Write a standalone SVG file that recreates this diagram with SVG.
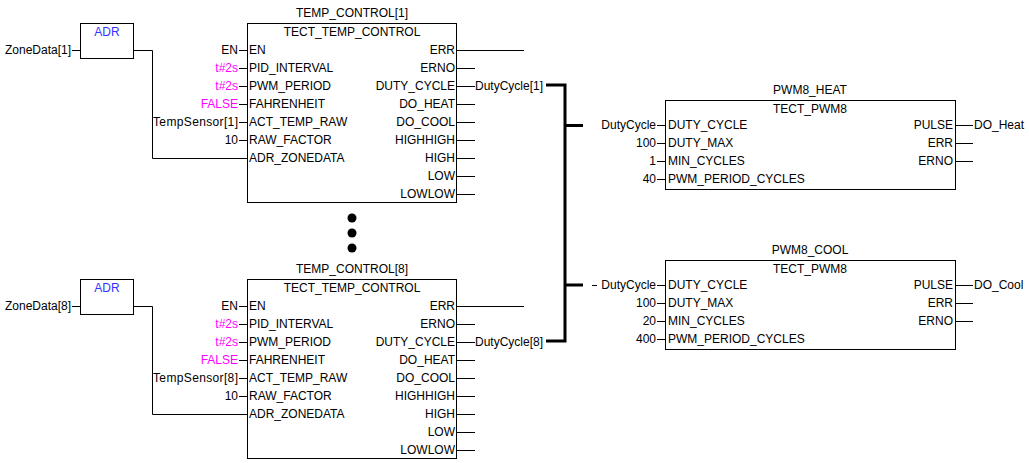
<svg xmlns="http://www.w3.org/2000/svg" width="1029" height="463" viewBox="0 0 1029 463">
<style>
text{font-family:"Liberation Sans",Arial,sans-serif;font-size:12px;fill:#000}
.m{fill:#ff00ff}
.b{fill:#3333ff}
.e{text-anchor:end}
.c{text-anchor:middle}
.box{fill:#fff;stroke:#000;stroke-width:1}
.w{stroke:#000;stroke-width:1;fill:none}
.bus{stroke:#000;stroke-width:3;fill:none}
</style>
<rect width="1029" height="463" fill="#fff"/>
<g id="connectors">
  <!-- top block -->
  <path class="w" d="M72 50.5H80M133.5 50.5H152.5V158.5H247"/>
  <path class="w" d="M239 50.5H247M239 68.5H247M239 86.5H247M239 104.5H247M239 122.5H247M239 140.5H247"/>
  <path class="w" d="M457 50.5H524M457 68.5H475M457 86.5H475M457 104.5H475M457 122.5H475M457 140.5H475M457 158.5H475M457 176.5H475M457 194.5H475"/>
  <!-- bottom block -->
  <path class="w" d="M72 306.5H80M133.5 306.5H152.5V414.5H247"/>
  <path class="w" d="M239 306.5H247M239 324.5H247M239 342.5H247M239 360.5H247M239 378.5H247M239 396.5H247"/>
  <path class="w" d="M457 306.5H524M457 324.5H475M457 342.5H475M457 360.5H475M457 378.5H475M457 396.5H475M457 414.5H475M457 432.5H475M457 450.5H475"/>
  <!-- PWM heat -->
  <path class="w" d="M657 125.5H665M657 143.5H665M657 161.5H665M657 179.5H665M956 125.5H973M956 143.5H973M956 161.5H973"/>
  <!-- PWM cool -->
  <path class="w" d="M592 285.5H597M657 285.5H665M657 303.5H665M657 321.5H665M657 339.5H665M956 285.5H973M956 303.5H973M956 321.5H973"/>
  <!-- bus -->
  <path class="bus" d="M546 85H565V341H546M565 125.5H583M565 285H583"/>
</g>
<g id="adr1">
  <rect class="box" x="80.5" y="23.5" width="53" height="35"/>
  <text class="b c" x="107" y="36">ADR</text>
  <text class="e" x="71" y="54">ZoneData[1]</text>
</g>
<g id="temp_control_1">
  <rect class="box" x="247.5" y="23.5" width="209" height="179"/>
  <text class="c" x="352" y="17">TEMP_CONTROL[1]</text>
  <text class="c" x="352" y="36">TECT_TEMP_CONTROL</text>
  <text x="249" y="54">EN</text>
  <text x="249" y="72">PID_INTERVAL</text>
  <text x="249" y="90">PWM_PERIOD</text>
  <text x="249" y="108">FAHRENHEIT</text>
  <text x="249" y="126">ACT_TEMP_RAW</text>
  <text x="249" y="144">RAW_FACTOR</text>
  <text x="249" y="162">ADR_ZONEDATA</text>
  <text class="e" x="455" y="54">ERR</text>
  <text class="e" x="455" y="72">ERNO</text>
  <text class="e" x="455" y="90">DUTY_CYCLE</text>
  <text class="e" x="455" y="108">DO_HEAT</text>
  <text class="e" x="455" y="126">DO_COOL</text>
  <text class="e" x="455" y="144">HIGHHIGH</text>
  <text class="e" x="455" y="162">HIGH</text>
  <text class="e" x="455" y="180">LOW</text>
  <text class="e" x="455" y="198">LOWLOW</text>
  <text class="e" x="238" y="54">EN</text>
  <text class="e m" x="238" y="72">t#2s</text>
  <text class="e m" x="238" y="90">t#2s</text>
  <text class="e m" x="238" y="108">FALSE</text>
  <text class="e" x="238" y="126" textLength="85" lengthAdjust="spacing">TempSensor[1]</text>
  <text class="e" x="238" y="144">10</text>
  <text x="475" y="90">DutyCycle[1]</text>
</g>
<g id="ellipsis">
  <circle cx="352" cy="218" r="4.5"/>
  <circle cx="352" cy="233" r="4.5"/>
  <circle cx="352" cy="248" r="4.5"/>
</g>
<g id="adr8">
  <rect class="box" x="80.5" y="279.5" width="53" height="35"/>
  <text class="b c" x="107" y="292">ADR</text>
  <text class="e" x="71" y="310">ZoneData[8]</text>
</g>
<g id="temp_control_8">
  <rect class="box" x="247.5" y="279.5" width="209" height="179"/>
  <text class="c" x="352" y="273">TEMP_CONTROL[8]</text>
  <text class="c" x="352" y="292">TECT_TEMP_CONTROL</text>
  <text x="249" y="310">EN</text>
  <text x="249" y="328">PID_INTERVAL</text>
  <text x="249" y="346">PWM_PERIOD</text>
  <text x="249" y="364">FAHRENHEIT</text>
  <text x="249" y="382">ACT_TEMP_RAW</text>
  <text x="249" y="400">RAW_FACTOR</text>
  <text x="249" y="418">ADR_ZONEDATA</text>
  <text class="e" x="455" y="310">ERR</text>
  <text class="e" x="455" y="328">ERNO</text>
  <text class="e" x="455" y="346">DUTY_CYCLE</text>
  <text class="e" x="455" y="364">DO_HEAT</text>
  <text class="e" x="455" y="382">DO_COOL</text>
  <text class="e" x="455" y="400">HIGHHIGH</text>
  <text class="e" x="455" y="418">HIGH</text>
  <text class="e" x="455" y="436">LOW</text>
  <text class="e" x="455" y="454">LOWLOW</text>
  <text class="e" x="238" y="310">EN</text>
  <text class="e m" x="238" y="328">t#2s</text>
  <text class="e m" x="238" y="346">t#2s</text>
  <text class="e m" x="238" y="364">FALSE</text>
  <text class="e" x="238" y="382" textLength="85" lengthAdjust="spacing">TempSensor[8]</text>
  <text class="e" x="238" y="400">10</text>
  <text x="475" y="346">DutyCycle[8]</text>
</g>
<g id="pwm8_heat">
  <rect class="box" x="665.5" y="100.5" width="290" height="89"/>
  <text class="c" x="810" y="94">PWM8_HEAT</text>
  <text class="c" x="810" y="113">TECT_PWM8</text>
  <text x="668" y="129">DUTY_CYCLE</text>
  <text x="668" y="147">DUTY_MAX</text>
  <text x="668" y="165">MIN_CYCLES</text>
  <text x="668" y="183">PWM_PERIOD_CYCLES</text>
  <text class="e" x="953" y="129">PULSE</text>
  <text class="e" x="953" y="147">ERR</text>
  <text class="e" x="953" y="165">ERNO</text>
  <text class="e" x="656" y="129">DutyCycle</text>
  <text class="e" x="656" y="147">100</text>
  <text class="e" x="656" y="165">1</text>
  <text class="e" x="656" y="183">40</text>
  <text x="974" y="129">DO_Heat</text>
</g>
<g id="pwm8_cool">
  <rect class="box" x="665.5" y="260.5" width="290" height="89"/>
  <text class="c" x="810" y="254">PWM8_COOL</text>
  <text class="c" x="810" y="273">TECT_PWM8</text>
  <text x="668" y="289">DUTY_CYCLE</text>
  <text x="668" y="307">DUTY_MAX</text>
  <text x="668" y="325">MIN_CYCLES</text>
  <text x="668" y="343">PWM_PERIOD_CYCLES</text>
  <text class="e" x="953" y="289">PULSE</text>
  <text class="e" x="953" y="307">ERR</text>
  <text class="e" x="953" y="325">ERNO</text>
  <text class="e" x="656" y="289">DutyCycle</text>
  <text class="e" x="656" y="307">100</text>
  <text class="e" x="656" y="325">20</text>
  <text class="e" x="656" y="343">400</text>
  <text x="974" y="289">DO_Cool</text>
</g>
</svg>
